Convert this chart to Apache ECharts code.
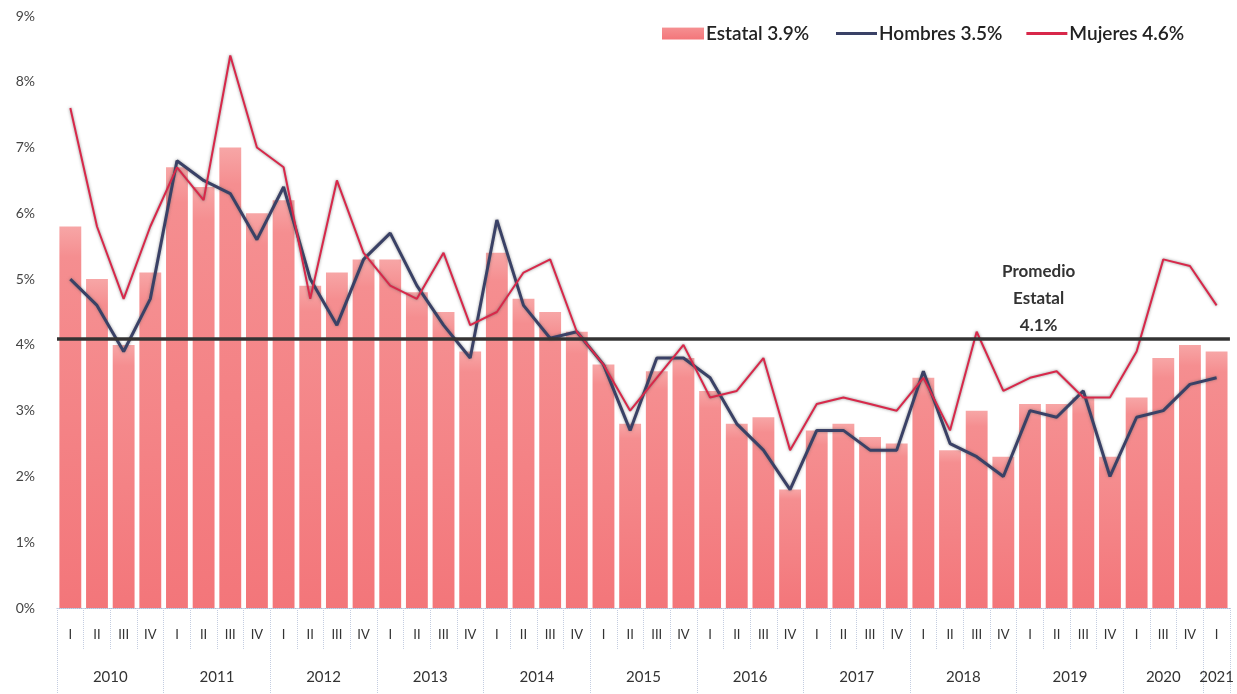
<!DOCTYPE html>
<html>
<head>
<meta charset="utf-8">
<script src="https://cdn.jsdelivr.net/npm/echarts@6/dist/echarts.min.js"></script>
<style>
  html, body { margin: 0; padding: 0; background: #ffffff; }
  #chart { width: 1237px; height: 694px; }
</style>
</head>
<body>
<div id="chart"></div>
<script>
// ---- Data ----
const quarterLabels = [
  'I','II','III','IV', 'I','II','III','IV', 'I','II','III','IV', 'I','II','III','IV',
  'I','II','III','IV', 'I','II','III','IV', 'I','II','III','IV', 'I','II','III','IV',
  'I','II','III','IV', 'I','II','III','IV', 'I','III','IV', 'I'
];
const yearOf = [
  '2010','2010','2010','2010', '2011','2011','2011','2011', '2012','2012','2012','2012',
  '2013','2013','2013','2013', '2014','2014','2014','2014', '2015','2015','2015','2015',
  '2016','2016','2016','2016', '2017','2017','2017','2017', '2018','2018','2018','2018',
  '2019','2019','2019','2019', '2020','2020','2020', '2021'
];
const estatal = [
  5.8,5.0,4.0,5.1, 6.7,6.4,7.0,6.0, 6.2,4.9,5.1,5.3, 5.3,4.8,4.5,3.9,
  5.4,4.7,4.5,4.2, 3.7,2.8,3.6,3.8, 3.3,2.8,2.9,1.8, 2.7,2.8,2.6,2.5,
  3.5,2.4,3.0,2.3, 3.1,3.1,3.2,2.3, 3.2,3.8,4.0,3.9
];
const hombres = [
  5.0,4.6,3.9,4.7, 6.8,6.5,6.3,5.6, 6.4,5.0,4.3,5.3, 5.7,4.9,4.3,3.8,
  5.9,4.6,4.1,4.2, 3.7,2.7,3.8,3.8, 3.5,2.8,2.4,1.8, 2.7,2.7,2.4,2.4,
  3.6,2.5,2.3,2.0, 3.0,2.9,3.3,2.0, 2.9,3.0,3.4,3.5
];
const mujeres = [
  7.6,5.8,4.7,5.8, 6.7,6.2,8.4,7.0, 6.7,4.7,6.5,5.4, 4.9,4.7,5.4,4.3,
  4.5,5.1,5.3,4.2, 3.7,3.0,3.5,4.0, 3.2,3.3,3.8,2.4, 3.1,3.2,3.1,3.0,
  3.5,2.7,4.2,3.3, 3.5,3.6,3.2,3.2, 3.9,5.3,5.2,4.6
];
const seriesNames = ['Estatal 3.9%', 'Hombres 3.5%', 'Mujeres 4.6%'];
const promedio = 4.1;
const promedioText = 'Promedio\nEstatal\n4.1%';
const yTicks = [0,1,2,3,4,5,6,7,8,9];

// ---- Derived helpers ----
const n = quarterLabels.length;
const yearCenters = {};
(function () {
  let start = 0;
  for (let i = 1; i <= n; i++) {
    if (i === n || yearOf[i] !== yearOf[start]) {
      const center = start + (i - start) / 2;
      yearCenters[Math.round(center * 2)] = yearOf[start];
      start = i;
    }
  }
})();
function isYearBoundary(i) {
  return i === 0 || i >= n || yearOf[i] !== yearOf[i - 1];
}

const FONT = 'Lato, "Open Sans", sans-serif';
const chart = echarts.init(document.getElementById('chart'), null, { renderer: 'canvas' });
const legendText = { fontFamily: FONT, fontSize: 19, fontWeight: 600, color: '#222', padding: [0, 0, 0, -3] };

const option = {
  backgroundColor: '#ffffff',
  animation: false,
  textStyle: { fontFamily: FONT },
  grid: { left: 57, right: 5, top: 16, bottom: 86, containLabel: false },
  legend: [
    {
      left: 657, top: 19,
      itemWidth: 42, itemHeight: 12, itemGap: 24,
      textStyle: legendText,
      data: [{ name: seriesNames[0], icon: 'rect' }]
    },
    {
      left: 831, top: 19,
      itemWidth: 41, itemHeight: 3, itemGap: 24,
      icon: 'rect',
      textStyle: legendText,
      data: [{ name: seriesNames[1] }, { name: seriesNames[2] }]
    }
  ],
  xAxis: [
    {
      type: 'category', data: quarterLabels, boundaryGap: true,
      axisLine: { show: true, lineStyle: { color: '#aab9d6', type: 'dotted', width: 1 } },
      axisTick: { show: true, length: 42, interval: 0, lineStyle: { color: '#c4cde0', type: 'dotted' } },
      axisLabel: { interval: 0, margin: 20, fontSize: 13, color: '#333', fontFamily: FONT }
    },
    {
      type: 'category', data: quarterLabels, boundaryGap: true, position: 'bottom',
      axisLine: { show: false },
      axisTick: { show: true, length: 86, interval: function (i) { return isYearBoundary(i); },
                  lineStyle: { color: '#c4cde0', type: 'dotted' } },
      axisLabel: { show: false }
    },
    {
      type: 'value', min: 0, max: n, interval: 0.5, position: 'bottom',
      axisLine: { show: false }, axisTick: { show: false }, splitLine: { show: false },
      axisLabel: {
        margin: 62, fontSize: 15, color: '#333', fontFamily: FONT,
        showMinLabel: true, showMaxLabel: true,
        formatter: function (v) { return yearCenters[Math.round(v * 2)] || ''; }
      }
    }
  ],
  yAxis: {
    type: 'value', min: yTicks[0], max: yTicks[yTicks.length - 1], interval: 1,
    axisLine: { show: false }, axisTick: { show: false }, splitLine: { show: false },
    axisLabel: { margin: 22, fontSize: 14, color: '#444', fontFamily: FONT, formatter: '{value}%' }
  },
  series: [
    {
      name: seriesNames[0], type: 'bar', data: estatal, xAxisIndex: 0,
      barCategoryGap: '18%',
      itemStyle: {
        color: new echarts.graphic.LinearGradient(0, 0, 0, 1, [
          { offset: 0, color: '#f7a6a6' },
          { offset: 0.08, color: '#f58e90' },
          { offset: 1, color: '#f3767a' }
        ])
      },
      markLine: {
        silent: true, symbol: 'none',
        label: { show: false },
        lineStyle: { color: '#333', width: 3.5, type: 'solid' },
        data: [{ yAxis: promedio }]
      },
      z: 1
    },
    {
      name: seriesNames[1], type: 'line', data: hombres, xAxisIndex: 0,
      symbol: 'none',
      lineStyle: { color: '#3a4166', width: 3, shadowColor: 'rgba(90,90,90,0.6)', shadowBlur: 3 },
      itemStyle: { color: '#3a4166' },
      z: 3
    },
    {
      name: seriesNames[2], type: 'line', data: mujeres, xAxisIndex: 0,
      symbol: 'none',
      lineStyle: { color: '#d8284a', width: 2, shadowColor: 'rgba(90,90,90,0.7)', shadowBlur: 3 },
      itemStyle: { color: '#d8284a' },
      z: 4
    }
  ],
  graphic: [
    {
      type: 'text', left: 1002, top: 258,
      style: {
        text: promedioText, fill: '#333', font: 'bold 17px ' + FONT,
        textAlign: 'center', lineHeight: 27
      }
    }
  ]
};
chart.setOption(option);
</script>
</body>
</html>
